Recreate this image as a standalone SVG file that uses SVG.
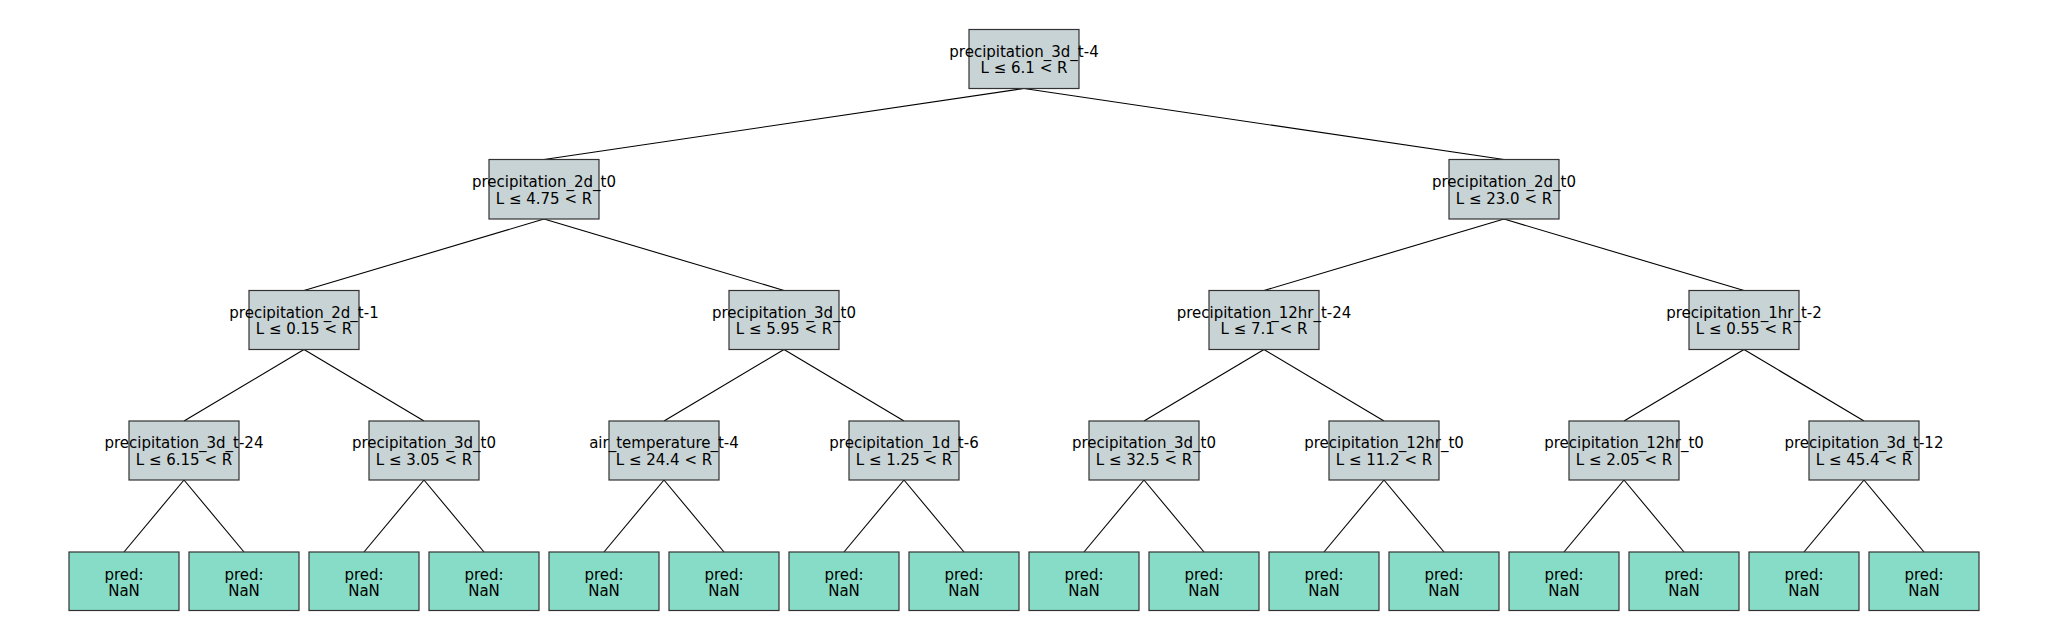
<svg xmlns="http://www.w3.org/2000/svg" width="2048" height="640" viewBox="0 0 2048 640">
<defs>
<style>
.bg{fill:#ffffff}
.split rect{fill:#c8d3d5;stroke:#333333;stroke-width:1.2}
.leaf rect{fill:#86dcc6;stroke:#333333;stroke-width:1.2}
text{font-family:"DejaVu Sans","Liberation Sans",sans-serif;font-size:15px;fill:#000000;text-anchor:middle}
#connectors line{stroke:#000000;stroke-width:1.1}
</style>
</defs>
<rect class="bg" x="0" y="0" width="2048" height="640"/>
<g id="connectors">
<line x1="1024" y1="88.5" x2="544" y2="159.5"/>
<line x1="1024" y1="88.5" x2="1504" y2="159.5"/>
<line x1="544" y1="219" x2="304" y2="290.5"/>
<line x1="544" y1="219" x2="784" y2="290.5"/>
<line x1="1504" y1="219" x2="1264" y2="290.5"/>
<line x1="1504" y1="219" x2="1744" y2="290.5"/>
<line x1="304" y1="349.5" x2="184" y2="421"/>
<line x1="304" y1="349.5" x2="424" y2="421"/>
<line x1="784" y1="349.5" x2="664" y2="421"/>
<line x1="784" y1="349.5" x2="904" y2="421"/>
<line x1="1264" y1="349.5" x2="1144" y2="421"/>
<line x1="1264" y1="349.5" x2="1384" y2="421"/>
<line x1="1744" y1="349.5" x2="1624" y2="421"/>
<line x1="1744" y1="349.5" x2="1864" y2="421"/>
<line x1="184" y1="480" x2="124" y2="552"/>
<line x1="184" y1="480" x2="244" y2="552"/>
<line x1="424" y1="480" x2="364" y2="552"/>
<line x1="424" y1="480" x2="484" y2="552"/>
<line x1="664" y1="480" x2="604" y2="552"/>
<line x1="664" y1="480" x2="724" y2="552"/>
<line x1="904" y1="480" x2="844" y2="552"/>
<line x1="904" y1="480" x2="964" y2="552"/>
<line x1="1144" y1="480" x2="1084" y2="552"/>
<line x1="1144" y1="480" x2="1204" y2="552"/>
<line x1="1384" y1="480" x2="1324" y2="552"/>
<line x1="1384" y1="480" x2="1444" y2="552"/>
<line x1="1624" y1="480" x2="1564" y2="552"/>
<line x1="1624" y1="480" x2="1684" y2="552"/>
<line x1="1864" y1="480" x2="1804" y2="552"/>
<line x1="1864" y1="480" x2="1924" y2="552"/>
</g>
<g id="n0" class="split"><rect x="969" y="29.5" width="110" height="59"/><text x="1024" y="56.5">precipitation_3d_t-4</text><text x="1024" y="73">L ≤ 6.1 &lt; R</text></g>
<g id="n1" class="split"><rect x="489" y="159.5" width="110" height="59.5"/><text x="544" y="187">precipitation_2d_t0</text><text x="544" y="203.5">L ≤ 4.75 &lt; R</text></g>
<g id="n2" class="split"><rect x="1449" y="159.5" width="110" height="59.5"/><text x="1504" y="187">precipitation_2d_t0</text><text x="1504" y="203.5">L ≤ 23.0 &lt; R</text></g>
<g id="n3" class="split"><rect x="249" y="290.5" width="110" height="59"/><text x="304" y="317.5">precipitation_2d_t-1</text><text x="304" y="334">L ≤ 0.15 &lt; R</text></g>
<g id="n4" class="split"><rect x="729" y="290.5" width="110" height="59"/><text x="784" y="317.5">precipitation_3d_t0</text><text x="784" y="334">L ≤ 5.95 &lt; R</text></g>
<g id="n5" class="split"><rect x="1209" y="290.5" width="110" height="59"/><text x="1264" y="317.5">precipitation_12hr_t-24</text><text x="1264" y="334">L ≤ 7.1 &lt; R</text></g>
<g id="n6" class="split"><rect x="1689" y="290.5" width="110" height="59"/><text x="1744" y="317.5">precipitation_1hr_t-2</text><text x="1744" y="334">L ≤ 0.55 &lt; R</text></g>
<g id="n7" class="split"><rect x="129" y="421" width="110" height="59"/><text x="184" y="448">precipitation_3d_t-24</text><text x="184" y="464.5">L ≤ 6.15 &lt; R</text></g>
<g id="n8" class="split"><rect x="369" y="421" width="110" height="59"/><text x="424" y="448">precipitation_3d_t0</text><text x="424" y="464.5">L ≤ 3.05 &lt; R</text></g>
<g id="n9" class="split"><rect x="609" y="421" width="110" height="59"/><text x="664" y="448">air_temperature_t-4</text><text x="664" y="464.5">L ≤ 24.4 &lt; R</text></g>
<g id="n10" class="split"><rect x="849" y="421" width="110" height="59"/><text x="904" y="448">precipitation_1d_t-6</text><text x="904" y="464.5">L ≤ 1.25 &lt; R</text></g>
<g id="n11" class="split"><rect x="1089" y="421" width="110" height="59"/><text x="1144" y="448">precipitation_3d_t0</text><text x="1144" y="464.5">L ≤ 32.5 &lt; R</text></g>
<g id="n12" class="split"><rect x="1329" y="421" width="110" height="59"/><text x="1384" y="448">precipitation_12hr_t0</text><text x="1384" y="464.5">L ≤ 11.2 &lt; R</text></g>
<g id="n13" class="split"><rect x="1569" y="421" width="110" height="59"/><text x="1624" y="448">precipitation_12hr_t0</text><text x="1624" y="464.5">L ≤ 2.05 &lt; R</text></g>
<g id="n14" class="split"><rect x="1809" y="421" width="110" height="59"/><text x="1864" y="448">precipitation_3d_t-12</text><text x="1864" y="464.5">L ≤ 45.4 &lt; R</text></g>
<g id="l0" class="leaf"><rect x="69" y="552" width="110" height="58.5"/><text x="124" y="579.5">pred:</text><text x="124" y="596">NaN</text></g>
<g id="l1" class="leaf"><rect x="189" y="552" width="110" height="58.5"/><text x="244" y="579.5">pred:</text><text x="244" y="596">NaN</text></g>
<g id="l2" class="leaf"><rect x="309" y="552" width="110" height="58.5"/><text x="364" y="579.5">pred:</text><text x="364" y="596">NaN</text></g>
<g id="l3" class="leaf"><rect x="429" y="552" width="110" height="58.5"/><text x="484" y="579.5">pred:</text><text x="484" y="596">NaN</text></g>
<g id="l4" class="leaf"><rect x="549" y="552" width="110" height="58.5"/><text x="604" y="579.5">pred:</text><text x="604" y="596">NaN</text></g>
<g id="l5" class="leaf"><rect x="669" y="552" width="110" height="58.5"/><text x="724" y="579.5">pred:</text><text x="724" y="596">NaN</text></g>
<g id="l6" class="leaf"><rect x="789" y="552" width="110" height="58.5"/><text x="844" y="579.5">pred:</text><text x="844" y="596">NaN</text></g>
<g id="l7" class="leaf"><rect x="909" y="552" width="110" height="58.5"/><text x="964" y="579.5">pred:</text><text x="964" y="596">NaN</text></g>
<g id="l8" class="leaf"><rect x="1029" y="552" width="110" height="58.5"/><text x="1084" y="579.5">pred:</text><text x="1084" y="596">NaN</text></g>
<g id="l9" class="leaf"><rect x="1149" y="552" width="110" height="58.5"/><text x="1204" y="579.5">pred:</text><text x="1204" y="596">NaN</text></g>
<g id="l10" class="leaf"><rect x="1269" y="552" width="110" height="58.5"/><text x="1324" y="579.5">pred:</text><text x="1324" y="596">NaN</text></g>
<g id="l11" class="leaf"><rect x="1389" y="552" width="110" height="58.5"/><text x="1444" y="579.5">pred:</text><text x="1444" y="596">NaN</text></g>
<g id="l12" class="leaf"><rect x="1509" y="552" width="110" height="58.5"/><text x="1564" y="579.5">pred:</text><text x="1564" y="596">NaN</text></g>
<g id="l13" class="leaf"><rect x="1629" y="552" width="110" height="58.5"/><text x="1684" y="579.5">pred:</text><text x="1684" y="596">NaN</text></g>
<g id="l14" class="leaf"><rect x="1749" y="552" width="110" height="58.5"/><text x="1804" y="579.5">pred:</text><text x="1804" y="596">NaN</text></g>
<g id="l15" class="leaf"><rect x="1869" y="552" width="110" height="58.5"/><text x="1924" y="579.5">pred:</text><text x="1924" y="596">NaN</text></g>
</svg>
